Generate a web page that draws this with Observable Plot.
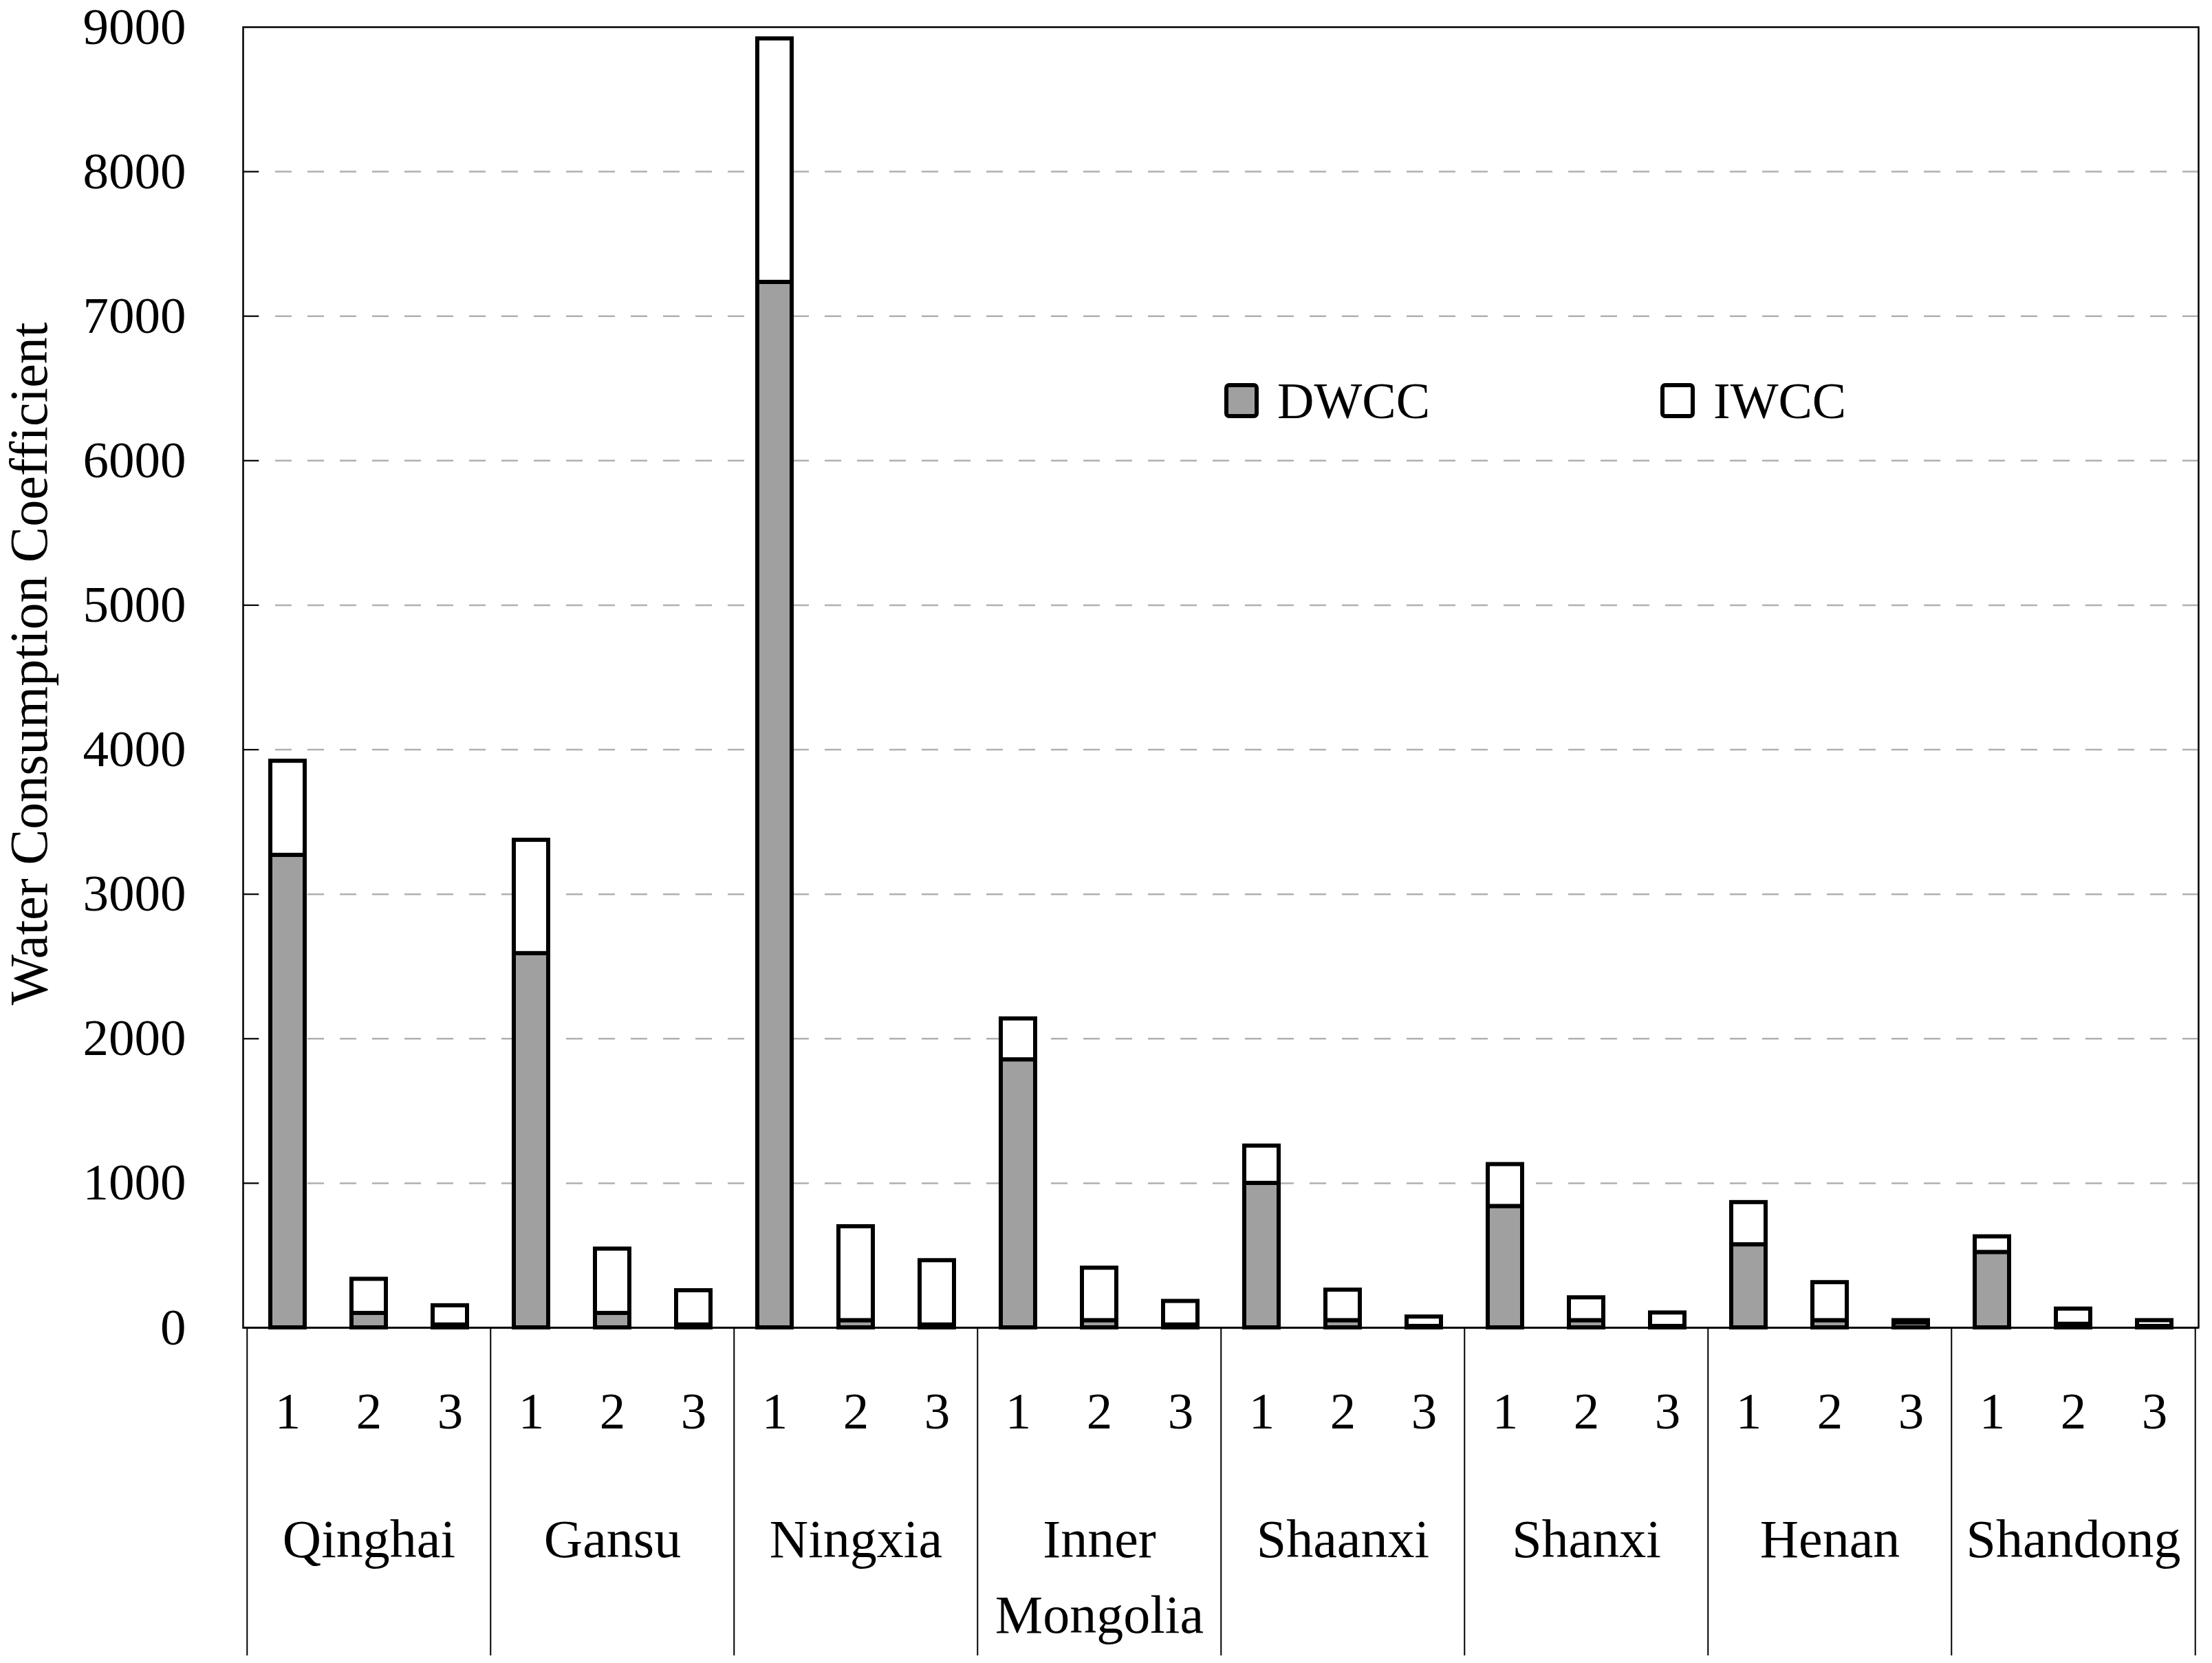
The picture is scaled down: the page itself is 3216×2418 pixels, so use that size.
<!DOCTYPE html>
<html>
<head>
<meta charset="utf-8">
<script src="https://cdn.jsdelivr.net/npm/d3@7"></script>
<script src="https://cdn.jsdelivr.net/npm/@observablehq/plot@0.6"></script>
<style>
  html, body { margin: 0; padding: 0; background: #fff; }
  #chart { position: relative; width: 3216px; height: 2418px; }
</style>
</head>
<body>
<div id="chart"></div>
<script>
// ---- data ----
const regions = ["Qinghai", "Gansu", "Ningxia", "Inner Mongolia", "Shaanxi", "Shanxi", "Henan", "Shandong"];
const regionLabels = ["Qinghai", "Gansu", "Ningxia", "Inner\nMongolia", "Shaanxi", "Shanxi", "Henan", "Shandong"];
const subgroups = ["1", "2", "3"];
// DWCC (bottom, grey) per region x subgroup
const dwcc = [3270, 100, 20,  2590, 100, 20,  7235, 50, 20,  1855, 50, 20,
              1000, 50, 10,   840, 50, 10,    575, 50, 35,   522, 25, 10];
// IWCC (top, white) per region x subgroup
const iwcc = [651, 236, 133,  784, 445, 237,  1685, 650, 445,  283, 363, 163,
              258, 211, 65,   290, 158, 93,   292, 263, 15,    108, 105, 40];
const yTicks = [0, 1000, 2000, 3000, 4000, 5000, 6000, 7000, 8000, 9000];
const seriesNames = ["DWCC", "IWCC"];
const seriesColors = ["#a0a0a0", "#ffffff"];
const yTitle = "Water Consumption Coefficient";

// ---- layout ----
const W = 3216, H = 2418;
const mL = 353, mR = 20, mT = 39, mB = 488;
const FONT = "'Liberation Serif', 'DejaVu Serif', serif";

const keys = regions.flatMap(r => subgroups.map(s => r + "|" + s));
const step = (W - mL - mR) / keys.length;

const rows = [];
keys.forEach((k, i) => rows.push({key: k, type: seriesNames[0], value: dwcc[i]}));
keys.forEach((k, i) => rows.push({key: k, type: seriesNames[1], value: iwcc[i]}));
const subRows = keys.map(k => ({key: k, sub: k.split("|")[1]}));
const regionRows = regions.map((r, i) => ({key: r + "|2", label: regionLabels[i]}));
const leftEdges = regions.map(r => r + "|1");
const rightEdge = [keys[keys.length - 1]];
const gridTicks = yTicks.filter(v => v > 0 && v < 9000);

const svg = Plot.plot({
  width: W,
  height: H,
  marginLeft: mL,
  marginRight: mR,
  marginTop: mT,
  marginBottom: mB,
  style: {fontFamily: FONT, fontSize: "75px", background: "#fff", color: "#000"},
  x: {domain: keys, paddingInner: 0.58, paddingOuter: 0.29, axis: null},
  y: {domain: [0, 9000], axis: null},
  color: {domain: seriesNames, range: seriesColors},
  marks: [
    Plot.ruleY(gridTicks, {y: d => d, stroke: "#b0b0b0", strokeWidth: 2.5, strokeDasharray: "24,23"}),
    Plot.tickY(gridTicks, {y: d => d, stroke: "#000", strokeWidth: 2, insetRight: (W - mL - mR) - 23}),
    Plot.axisY({ticks: yTicks, tickSize: 0, tickPadding: 83, fontSize: 75, label: null, tickFormat: d => String(d)}),
    Plot.rectY(rows, {x: "key", y: "value", z: "type", fill: "type", stroke: "#000", strokeWidth: 6}),
    Plot.frame({stroke: "#000", strokeWidth: 2.5}),
    Plot.ruleY([0], {stroke: "#000", strokeWidth: 3}),
    // region separators below the axis
    Plot.ruleX(leftEdges, {x: d => d, y1: () => 0, y2: () => 0, dx: -step / 2, insetBottom: -(2407 - (H - mB)), stroke: "#000", strokeWidth: 2}),
    Plot.ruleX(rightEdge, {x: d => d, y1: () => 0, y2: () => 0, dx: step / 2, insetBottom: -(2407 - (H - mB)), stroke: "#000", strokeWidth: 2}),
    // subgroup labels
    Plot.text(subRows, {x: "key", y: () => 0, text: "sub", lineAnchor: "bottom", dy: 146, fontSize: 75, fill: "#000"}),
    // region labels
    Plot.text(regionRows, {x: "key", y: () => 0, text: "label", lineAnchor: "top", lineHeight: 1.41, dy: 255, fontSize: 78, fill: "#000"}),
    // y-axis title
    Plot.text([yTitle], {frameAnchor: "left", text: d => d, rotate: -90, textAnchor: "middle", lineAnchor: "bottom", dx: 67 - mL, dy: -20, fontSize: 78, fill: "#000"})
  ]
});

// ---- legend (inside plot area) ----
const lg = d3.select(svg).append("g")
  .attr("font-family", FONT).attr("font-size", 74).attr("text-anchor", "start");
const legendItems = [
  {name: seriesNames[0], color: seriesColors[0], x: 1780},
  {name: seriesNames[1], color: seriesColors[1], x: 2414}
];
legendItems.forEach(it => {
  lg.append("rect")
    .attr("x", it.x + 3).attr("y", 560).attr("width", 44).attr("height", 45)
    .attr("rx", 4).attr("fill", it.color).attr("stroke", "#000").attr("stroke-width", 6);
  lg.append("text").attr("x", it.x + 77).attr("y", 608).attr("fill", "#000")
    .attr("text-anchor", "start").text(it.name);
});

document.getElementById("chart").appendChild(svg);
</script>
</body>
</html>
